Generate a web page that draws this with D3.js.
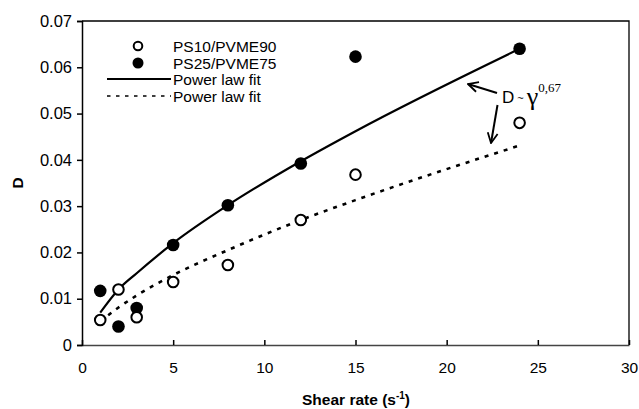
<!DOCTYPE html>
<html>
<head>
<meta charset="utf-8">
<script src="https://cdn.jsdelivr.net/npm/d3@7"></script>
<style>
  body { margin: 0; background: #fff; }
  text { font-family: Arial, "Liberation Sans", sans-serif; }
</style>
</head>
<body>
<svg id="chart" width="639" height="409"></svg>
<script>
// shear rate values (s^-1)
const shearRates = [1, 2, 3, 5, 8, 12, 15, 24];
// measured D
const dPS10 = [0.0054, 0.0120, 0.0060, 0.0136, 0.0173, 0.0270, 0.0368, 0.0480];
const dPS25 = [0.0117, 0.0040, 0.0080, 0.0216, 0.0302, 0.0392, 0.0623, 0.0640];
// fit curves at the same shear rates
const fitPS25 = [0.0070, 0.0120, 0.0155, 0.0220, 0.0302, 0.0397, 0.0462, 0.0640];
const fitPS10 = [0.0051, 0.0081, 0.0107, 0.0151, 0.0205, 0.0270, 0.0313, 0.0431];

const xTicks = [0, 5, 10, 15, 20, 25, 30];
const yTicks = [0, 0.01, 0.02, 0.03, 0.04, 0.05, 0.06, 0.07];
const yTickLabels = ['0', '0.01', '0.02', '0.03', '0.04', '0.05', '0.06', '0.07'];
const legendLabels = ['PS10/PVME90', 'PS25/PVME75', 'Power law fit', 'Power law fit'];

const svg = d3.select('#chart');
const margin = {left: 82, right: 10, top: 21, bottom: 64};
const width = 639, height = 409;

const x = d3.scaleLinear().domain([0, 30]).range([margin.left, width - margin.right]);
const y = d3.scaleLinear().domain([0, 0.07]).range([height - margin.bottom, margin.top]);

// frame (top and right)
svg.append('path')
  .attr('d', `M${x(0)},${y(0.07)}H${x(30)}V${y(0)}`)
  .attr('fill', 'none')
  .attr('stroke', '#000')
  .attr('stroke-width', 1.3);

// x axis, ticks pointing inward
const xAxis = svg.append('g')
  .attr('transform', `translate(0,${y(0)})`)
  .call(d3.axisBottom(x).tickValues(xTicks).tickSizeInner(-5).tickSizeOuter(0).tickPadding(17));
xAxis.select('.domain').attr('stroke', '#444').attr('stroke-width', 1.5);
xAxis.selectAll('.tick line').attr('stroke', '#000').attr('stroke-width', 1.5);
xAxis.selectAll('text').attr('font-size', 15.5).attr('fill', '#000');

// y axis, ticks pointing outward
const yAxis = svg.append('g')
  .attr('transform', `translate(${x(0)},0)`)
  .call(d3.axisLeft(y).tickValues(yTicks).tickSize(5).tickPadding(5)
    .tickFormat((d, i) => yTickLabels[i]));
yAxis.select('.domain').attr('stroke', '#000').attr('stroke-width', 1.5);
yAxis.selectAll('.tick line').attr('stroke', '#000').attr('stroke-width', 1.5);
yAxis.selectAll('text').attr('font-size', 16.5).attr('fill', '#000');

// axis titles
svg.append('text')
  .attr('x', 356)
  .attr('y', 405)
  .attr('text-anchor', 'middle')
  .attr('font-size', 15.5)
  .attr('font-weight', 'bold')
  .html('Shear rate (s<tspan dy="-6" font-size="10">-1</tspan><tspan dy="6">)</tspan>');

svg.append('text')
  .attr('transform', `translate(23,${y(0.035)}) rotate(-90)`)
  .attr('text-anchor', 'middle')
  .attr('font-size', 15.5)
  .attr('font-weight', 'bold')
  .text('D');

// fit lines
const line = d3.line()
  .x((d, i) => x(shearRates[i]))
  .y(d => y(d))
  .curve(d3.curveMonotoneX);

svg.append('path')
  .attr('d', line(fitPS25))
  .attr('fill', 'none')
  .attr('stroke', '#000')
  .attr('stroke-width', 2.2);

svg.append('path')
  .attr('d', line(fitPS10))
  .attr('fill', 'none')
  .attr('stroke', '#000')
  .attr('stroke-width', 2.6)
  .attr('stroke-dasharray', '4,6');

// data points
svg.selectAll('.ps25').data(dPS25)
  .enter().append('circle')
  .attr('class', 'ps25')
  .attr('cx', (d, i) => x(shearRates[i]))
  .attr('cy', d => y(d))
  .attr('r', 6.3)
  .attr('fill', '#000');

svg.selectAll('.ps10').data(dPS10)
  .enter().append('circle')
  .attr('class', 'ps10')
  .attr('cx', (d, i) => x(shearRates[i]))
  .attr('cy', d => y(d))
  .attr('r', 5.3)
  .attr('fill', '#fff')
  .attr('stroke', '#000')
  .attr('stroke-width', 2);

// legend
const legend = svg.append('g');
const legendY = [46, 63, 79, 96];
legend.append('circle').attr('cx', 138).attr('cy', legendY[0]).attr('r', 4.3)
  .attr('fill', '#fff').attr('stroke', '#000').attr('stroke-width', 2);
legend.append('circle').attr('cx', 138).attr('cy', legendY[1]).attr('r', 5.5).attr('fill', '#000');
legend.append('line').attr('x1', 107).attr('x2', 171).attr('y1', legendY[2]).attr('y2', legendY[2])
  .attr('stroke', '#000').attr('stroke-width', 2);
legend.append('line').attr('x1', 107).attr('x2', 171).attr('y1', legendY[3]).attr('y2', legendY[3])
  .attr('stroke', '#000').attr('stroke-width', 1.5).attr('stroke-dasharray', '3.5,5.5');
legend.selectAll('.leg-text').data(legendLabels)
  .enter().append('text')
  .attr('class', 'leg-text')
  .attr('x', 173)
  .attr('y', (d, i) => legendY[i])
  .attr('dy', '0.36em')
  .attr('font-size', 15.5)
  .text(d => d);

// annotation
const defs = svg.append('defs');
defs.append('marker')
  .attr('id', 'arrow')
  .attr('viewBox', '0 0 12 12')
  .attr('refX', 11).attr('refY', 6)
  .attr('markerWidth', 12).attr('markerHeight', 12)
  .attr('markerUnits', 'userSpaceOnUse')
  .attr('orient', 'auto')
  .append('path')
  .attr('d', 'M1,1L11,6L1,11')
  .attr('fill', 'none')
  .attr('stroke', '#000')
  .attr('stroke-width', 1.8);

svg.append('line')
  .attr('x1', 497).attr('y1', 93).attr('x2', 468).attr('y2', 84)
  .attr('stroke', '#000').attr('stroke-width', 2)
  .attr('marker-end', 'url(#arrow)');
svg.append('line')
  .attr('x1', 497.5).attr('y1', 105).attr('x2', 491).attr('y2', 143)
  .attr('stroke', '#000').attr('stroke-width', 2)
  .attr('marker-end', 'url(#arrow)');

const ann = svg.append('text')
  .attr('x', 502)
  .attr('y', 103)
  .attr('font-size', 17);
ann.append('tspan').text('D');
ann.append('tspan').attr('font-size', 11).attr('dx', 3).attr('dy', -1).text('~');
ann.append('tspan').attr('font-family', '"Liberation Serif", "DejaVu Serif", serif')
  .attr('font-size', 26).attr('dx', 3).attr('dy', 3).text('γ');
ann.append('tspan').attr('font-family', '"Liberation Serif", "DejaVu Serif", serif')
  .attr('font-size', 13).attr('dy', -13).text('0,67');
</script>
</body>
</html>
